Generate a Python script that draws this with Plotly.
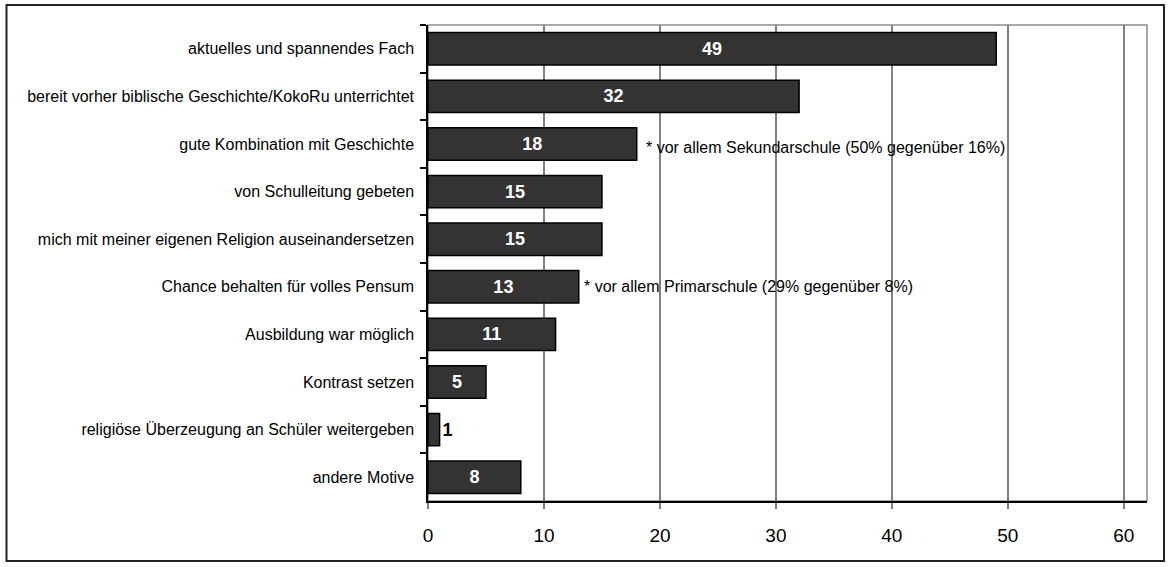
import plotly.graph_objects as go

categories = [
    "aktuelles und spannendes Fach",
    "bereit vorher biblische Geschichte/KokoRu unterrichtet",
    "gute Kombination mit Geschichte",
    "von Schulleitung gebeten",
    "mich mit meiner eigenen Religion auseinandersetzen",
    "Chance behalten für volles Pensum",
    "Ausbildung war möglich",
    "Kontrast setzen",
    "religiöse Überzeugung an Schüler weitergeben",
    "andere Motive",
]
values = [49, 32, 18, 15, 15, 13, 11, 5, 1, 8]
notes = {
    "gute Kombination mit Geschichte": "* vor allem Sekundarschule (50% gegenüber 16%)",
    "Chance behalten für volles Pensum": "* vor allem Primarschule (29% gegenüber 8%)",
}
x_ticks = [0, 10, 20, 30, 40, 50, 60]

W, H = 1170, 567
ML, MR, MT, MB = 428, 23, 25, 66
PW, PH = W - ML - MR, H - MT - MB

FONT = "Liberation Sans, Arial, sans-serif"

positions = ["outside" if v < 3 else "inside" for v in values]

fig = go.Figure()
fig.add_trace(go.Bar(
    y=categories,
    x=values,
    orientation="h",
    marker=dict(color="#333333", line=dict(color="#000000", width=1.5)),
    text=[str(v) for v in values],
    textposition=positions,
    insidetextanchor="middle",
    constraintext="none",
    insidetextfont=dict(family=FONT, size=18, color="white", weight="bold"),
    outsidetextfont=dict(family=FONT, size=18, color="black", weight="bold"),
    cliponaxis=False,
    hoverinfo="skip",
))

annotations = []
for cat, txt in notes.items():
    v = values[categories.index(cat)]
    annotations.append(dict(
        x=v, y=cat, xref="x", yref="y", text=txt, showarrow=False,
        xanchor="left", yanchor="middle",
        xshift=7 if v > 15 else 3, yshift=-3 if v > 15 else 0,
        font=dict(family=FONT, size=16, color="black"),
    ))

shapes = [
    # plot frame (gray top/right)
    dict(type="rect", xref="paper", yref="paper", x0=0, x1=1, y0=0, y1=1,
         line=dict(color="#8c8c8c", width=1.5), layer="below"),
    # outer border
    dict(type="rect", xref="paper", yref="paper",
         x0=(6.5 - ML) / PW, x1=(1164 - ML) / PW,
         y0=(MT + PH - 561) / PH, y1=(MT + PH - 5) / PH,
         line=dict(color="#222222", width=2)),
]

fig.update_layout(
    width=W, height=H,
    margin=dict(l=ML, r=MR, t=MT, b=MB, pad=0),
    paper_bgcolor="white", plot_bgcolor="white",
    showlegend=False,
    bargap=0.32,
    font=dict(family=FONT, size=16, color="black"),
    annotations=annotations,
    shapes=shapes,
    xaxis=dict(
        range=[0, 62], tickvals=x_ticks, ticktext=[str(t) for t in x_ticks],
        showgrid=True, gridcolor="#808080", gridwidth=1.5,
        showline=True, linecolor="black", linewidth=1.5,
        ticks="outside", ticklen=6, tickcolor="#808080", tickwidth=1.5,
        tickfont=dict(family=FONT, size=19, color="black"),
        ticklabelstandoff=10,
        zeroline=False, fixedrange=True,
    ),
    yaxis=dict(
        autorange="reversed", type="category",
        showline=True, linecolor="black", linewidth=1.5,
        ticks="outside", ticklen=6, tickcolor="black", tickwidth=1.5,
        tickson="boundaries",
        tickfont=dict(family=FONT, size=16, color="black"),
        ticklabelstandoff=9,
        showgrid=False, zeroline=False, fixedrange=True,
    ),
)

fig.write_html(
    "out.html",
    config={"displayModeBar": False},
    post_script="document.body.style.margin='0';document.body.style.overflow='hidden';",
)
